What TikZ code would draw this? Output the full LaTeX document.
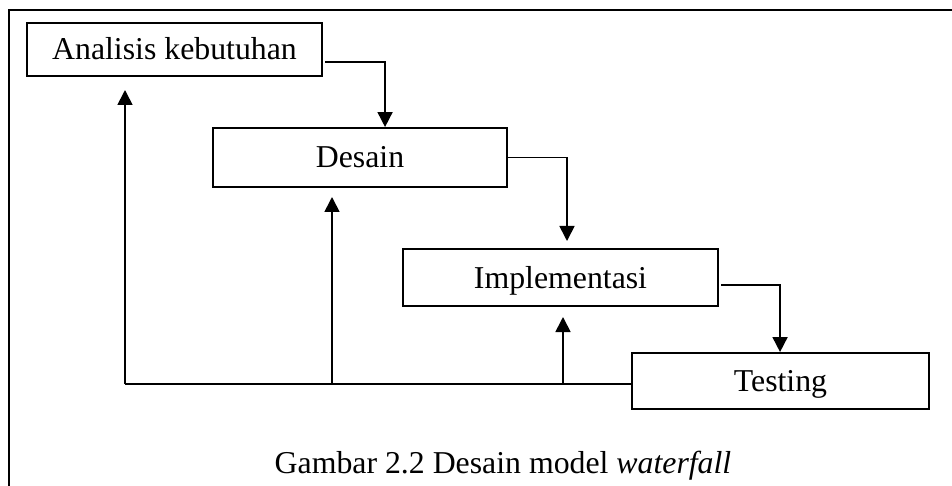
\documentclass[tikz,border=0pt]{standalone}
\usepackage{fontspec}
\setmainfont{Liberation Serif}
\usetikzlibrary{arrows.meta,calc}
\begin{document}
\begin{tikzpicture}[x=1pt,y=-1pt,
  stage/.style={draw, line width=1.9pt, inner sep=0pt, text height=24pt, text depth=3pt,
    font=\fontsize{31.8}{38}\selectfont},
  link/.style={line width=1.7pt},
  arr/.style={link, -{Triangle[width=15pt,length=15pt]}}]
\useasboundingbox (0,0) rectangle (952,486);
% frame
\draw[line width=1.9pt] (9,486) -- (9,10) -- (952,10);
% stages
\node[stage, minimum width=295pt, minimum height=53pt] (A) at (174.5,49.5) {Analisis kebutuhan};
\node[stage, minimum width=294pt, minimum height=59pt] (D) at (360,157.5) {Desain};
\node[stage, minimum width=315pt, minimum height=57pt] (I) at (560.5,277.5) {Implementasi};
\node[stage, minimum width=297pt, minimum height=56pt] (T) at (780.5,381) {Testing};
% forward connectors
\coordinate (s1) at (325,62);
\draw[arr] (s1) -| ($(D.north west)+(173,0)$);
\coordinate (t2) at (567,241);
\draw[arr] (D.east) -| (t2);
\coordinate (s3) at (721,285);
\draw[arr] (s3) -| ($(T.north west)+(149,0)$);
% feedback
\coordinate (f1) at (125,384);
\coordinate (u1) at (125,90);
\coordinate (u2) at (332,197);
\coordinate (u3) at (563,317);
\draw[link] ($(T.west)+(0,3)$) -- (f1);
\draw[arr] (f1) -- (u1);
\draw[arr] (u2 |- f1) -- (u2);
\draw[arr] (u3 |- f1) -- (u3);
% caption
\node[font=\fontsize{31.8}{38}\selectfont, anchor=base, inner sep=0pt] (cap) at (503,473)
  {Gambar 2.2 Desain model \textit{waterfall}};
\end{tikzpicture}
\end{document}
